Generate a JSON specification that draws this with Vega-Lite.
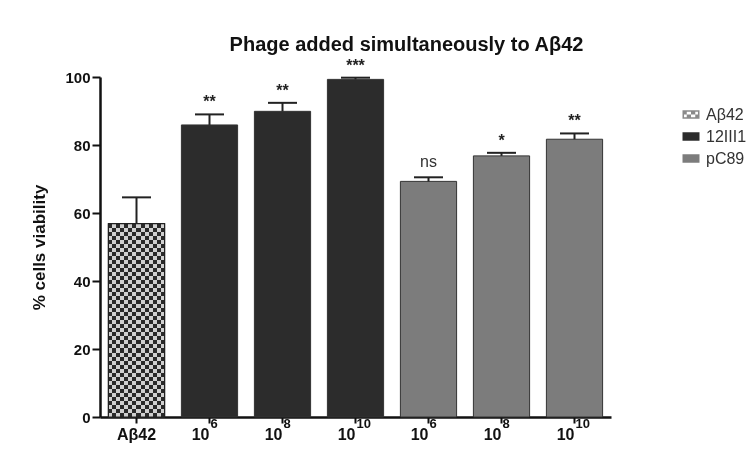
{
  "$schema": "https://vega.github.io/schema/vega-lite/v6.json",
  "width": 511,
  "height": 340,
  "autosize": "none",
  "padding": {"left": 100, "top": 77, "right": 141, "bottom": 33},
  "background": "#ffffff",
  "config": {
    "font": "Liberation Sans",
    "view": {"stroke": null}
  },
  "title": {
    "text": "Phage added simultaneously to Aβ42",
    "anchor": "middle",
    "frame": "group",
    "dx": 51,
    "offset": 3,
    "font": "Liberation Sans",
    "fontSize": 20,
    "fontWeight": "bold",
    "color": "#111111"
  },
  "data": {
    "values": [
      {"id": "a", "group": "Aβ42", "v": 56.9, "hi": 64.6, "sig": "", "exp": ""},
      {"id": "b6", "group": "12III1", "v": 85.9, "hi": 89.0, "sig": "**", "exp": "6"},
      {"id": "b8", "group": "12III1", "v": 89.9, "hi": 92.4, "sig": "**", "exp": "8"},
      {"id": "b10", "group": "12III1", "v": 99.3, "hi": 99.8, "sig": "***", "exp": "10"},
      {"id": "c6", "group": "pC89", "v": 69.3, "hi": 70.5, "sig": "ns", "exp": "6"},
      {"id": "c8", "group": "pC89", "v": 76.8, "hi": 77.7, "sig": "*", "exp": "8"},
      {"id": "c10", "group": "pC89", "v": 81.7, "hi": 83.4, "sig": "**", "exp": "10"}
    ]
  },
  "encoding": {
    "x": {
      "field": "id",
      "type": "nominal",
      "sort": null,
      "scale": {"domain": ["a", "b6", "b8", "b10", "c6", "c8", "c10"], "paddingInner": 0.23, "paddingOuter": 0.115},
      "axis": {
        "title": null,
        "labelAngle": 0,
        "labelExpr": "datum.value == 'a' ? 'Aβ42' : '10'",
        "labelAlign": {"condition": {"test": "datum.value == 'a'", "value": "center"}, "value": "right"},
        "labelFont": "Liberation Sans",
        "labelFontSize": 16,
        "labelFontWeight": "bold",
        "labelColor": "#111111",
        "labelPadding": 3,
        "tickSize": 6,
        "tickWidth": 2,
        "tickColor": "#111111",
        "domainColor": "#111111",
        "domainWidth": 2.5
      }
    },
    "y": {
      "type": "quantitative",
      "scale": {"domain": [0, 100], "nice": false},
      "axis": {
        "title": "% cells viability",
        "values": [0, 20, 40, 60, 80, 100],
        "grid": false,
        "titleFont": "Liberation Sans",
        "titleFontSize": 17,
        "titleFontWeight": "bold",
        "titleColor": "#111111",
        "titlePadding": 16,
        "labelFont": "Liberation Sans",
        "labelFontSize": 15,
        "labelFontWeight": "bold",
        "labelColor": "#111111",
        "labelPadding": 2,
        "tickSize": 8,
        "tickWidth": 2,
        "tickColor": "#111111",
        "domainColor": "#111111",
        "domainWidth": 2.5
      }
    }
  },
  "layer": [
    {
      "mark": {"type": "bar", "stroke": "#333333", "strokeWidth": 1},
      "encoding": {
        "y": {"field": "v", "type": "quantitative"},
        "color": {
          "field": "group",
          "type": "nominal",
          "scale": {"domain": ["Aβ42", "12III1", "pC89"], "range": ["#8a8a8a", "#2c2c2c", "#7c7c7c"]},
          "legend": {
            "title": null,
            "orient": "none",
            "legendX": 583,
            "legendY": 29.5,
            "padding": 0,
            "labelFont": "Liberation Sans",
            "labelFontSize": 16,
            "labelColor": "#333333",
            "labelOffset": 7,
            "rowPadding": 6,
            "symbolType": "M-1,-0.5H1V0.5H-1Z",
            "symbolSize": 289,
            "symbolStrokeColor": "#222222",
            "symbolStrokeWidth": 1,
            "symbolOpacity": 1,
            "encode": {
              "symbols": {
                "update": {
                  "shape": {"signal": "datum.value == 'Aβ42' ? 'M-1,-0.5H1V0.5H-1ZM-0.82,-0.32V0.32H0.82V-0.32ZM-1,-0.5H-0.5V0H-1ZM0,-0.5H0.5V0H0ZM-0.5,0H0V0.5H-0.5ZM0.5,0H1V0.5H0.5Z' : 'M-1,-0.5H1V0.5H-1Z'"},
                  "fill": {"signal": "datum.value == 'Aβ42' ? '#1a1a1a' : scale('color', datum.value)"},
                  "strokeWidth": {"signal": "datum.value == 'Aβ42' ? 0 : 1"}
                }
              }
            }
          }
        }
      }
    },
    {
      "transform": [{"filter": "datum.id == 'a'"}],
      "mark": {
        "type": "bar",
        "fill": {
          "gradient": "linear", "x1": 0, "y1": 0, "x2": 1, "y2": 0,
          "stops": [
            {"offset": 0, "color": "#ffffff"}, {"offset": 0.0714, "color": "#ffffff"},
            {"offset": 0.0714, "color": "#000000"}, {"offset": 0.1429, "color": "#000000"},
            {"offset": 0.1429, "color": "#ffffff"}, {"offset": 0.2143, "color": "#ffffff"},
            {"offset": 0.2143, "color": "#000000"}, {"offset": 0.2857, "color": "#000000"},
            {"offset": 0.2857, "color": "#ffffff"}, {"offset": 0.3571, "color": "#ffffff"},
            {"offset": 0.3571, "color": "#000000"}, {"offset": 0.4286, "color": "#000000"},
            {"offset": 0.4286, "color": "#ffffff"}, {"offset": 0.5, "color": "#ffffff"},
            {"offset": 0.5, "color": "#000000"}, {"offset": 0.5714, "color": "#000000"},
            {"offset": 0.5714, "color": "#ffffff"}, {"offset": 0.6429, "color": "#ffffff"},
            {"offset": 0.6429, "color": "#000000"}, {"offset": 0.7143, "color": "#000000"},
            {"offset": 0.7143, "color": "#ffffff"}, {"offset": 0.7857, "color": "#ffffff"},
            {"offset": 0.7857, "color": "#000000"}, {"offset": 0.8571, "color": "#000000"},
            {"offset": 0.8571, "color": "#ffffff"}, {"offset": 0.9286, "color": "#ffffff"},
            {"offset": 0.9286, "color": "#000000"}, {"offset": 1, "color": "#000000"}
          ]
        }
      },
      "encoding": {"y": {"field": "v", "type": "quantitative"}}
    },
    {
      "transform": [{"filter": "datum.id == 'a'"}],
      "mark": {
        "type": "bar",
        "blend": "difference",
        "fill": {
          "gradient": "linear", "x1": 0, "y1": 0, "x2": 0, "y2": 1,
          "stops": [
            {"offset": 0, "color": "#ffffff"}, {"offset": 0.0208, "color": "#ffffff"},
            {"offset": 0.0208, "color": "#000000"}, {"offset": 0.0417, "color": "#000000"},
            {"offset": 0.0417, "color": "#ffffff"}, {"offset": 0.0625, "color": "#ffffff"},
            {"offset": 0.0625, "color": "#000000"}, {"offset": 0.0833, "color": "#000000"},
            {"offset": 0.0833, "color": "#ffffff"}, {"offset": 0.1042, "color": "#ffffff"},
            {"offset": 0.1042, "color": "#000000"}, {"offset": 0.125, "color": "#000000"},
            {"offset": 0.125, "color": "#ffffff"}, {"offset": 0.1458, "color": "#ffffff"},
            {"offset": 0.1458, "color": "#000000"}, {"offset": 0.1667, "color": "#000000"},
            {"offset": 0.1667, "color": "#ffffff"}, {"offset": 0.1875, "color": "#ffffff"},
            {"offset": 0.1875, "color": "#000000"}, {"offset": 0.2083, "color": "#000000"},
            {"offset": 0.2083, "color": "#ffffff"}, {"offset": 0.2292, "color": "#ffffff"},
            {"offset": 0.2292, "color": "#000000"}, {"offset": 0.25, "color": "#000000"},
            {"offset": 0.25, "color": "#ffffff"}, {"offset": 0.2708, "color": "#ffffff"},
            {"offset": 0.2708, "color": "#000000"}, {"offset": 0.2917, "color": "#000000"},
            {"offset": 0.2917, "color": "#ffffff"}, {"offset": 0.3125, "color": "#ffffff"},
            {"offset": 0.3125, "color": "#000000"}, {"offset": 0.3333, "color": "#000000"},
            {"offset": 0.3333, "color": "#ffffff"}, {"offset": 0.3542, "color": "#ffffff"},
            {"offset": 0.3542, "color": "#000000"}, {"offset": 0.375, "color": "#000000"},
            {"offset": 0.375, "color": "#ffffff"}, {"offset": 0.3958, "color": "#ffffff"},
            {"offset": 0.3958, "color": "#000000"}, {"offset": 0.4167, "color": "#000000"},
            {"offset": 0.4167, "color": "#ffffff"}, {"offset": 0.4375, "color": "#ffffff"},
            {"offset": 0.4375, "color": "#000000"}, {"offset": 0.4583, "color": "#000000"},
            {"offset": 0.4583, "color": "#ffffff"}, {"offset": 0.4792, "color": "#ffffff"},
            {"offset": 0.4792, "color": "#000000"}, {"offset": 0.5, "color": "#000000"},
            {"offset": 0.5, "color": "#ffffff"}, {"offset": 0.5208, "color": "#ffffff"},
            {"offset": 0.5208, "color": "#000000"}, {"offset": 0.5417, "color": "#000000"},
            {"offset": 0.5417, "color": "#ffffff"}, {"offset": 0.5625, "color": "#ffffff"},
            {"offset": 0.5625, "color": "#000000"}, {"offset": 0.5833, "color": "#000000"},
            {"offset": 0.5833, "color": "#ffffff"}, {"offset": 0.6042, "color": "#ffffff"},
            {"offset": 0.6042, "color": "#000000"}, {"offset": 0.625, "color": "#000000"},
            {"offset": 0.625, "color": "#ffffff"}, {"offset": 0.6458, "color": "#ffffff"},
            {"offset": 0.6458, "color": "#000000"}, {"offset": 0.6667, "color": "#000000"},
            {"offset": 0.6667, "color": "#ffffff"}, {"offset": 0.6875, "color": "#ffffff"},
            {"offset": 0.6875, "color": "#000000"}, {"offset": 0.7083, "color": "#000000"},
            {"offset": 0.7083, "color": "#ffffff"}, {"offset": 0.7292, "color": "#ffffff"},
            {"offset": 0.7292, "color": "#000000"}, {"offset": 0.75, "color": "#000000"},
            {"offset": 0.75, "color": "#ffffff"}, {"offset": 0.7708, "color": "#ffffff"},
            {"offset": 0.7708, "color": "#000000"}, {"offset": 0.7917, "color": "#000000"},
            {"offset": 0.7917, "color": "#ffffff"}, {"offset": 0.8125, "color": "#ffffff"},
            {"offset": 0.8125, "color": "#000000"}, {"offset": 0.8333, "color": "#000000"},
            {"offset": 0.8333, "color": "#ffffff"}, {"offset": 0.8542, "color": "#ffffff"},
            {"offset": 0.8542, "color": "#000000"}, {"offset": 0.875, "color": "#000000"},
            {"offset": 0.875, "color": "#ffffff"}, {"offset": 0.8958, "color": "#ffffff"},
            {"offset": 0.8958, "color": "#000000"}, {"offset": 0.9167, "color": "#000000"},
            {"offset": 0.9167, "color": "#ffffff"}, {"offset": 0.9375, "color": "#ffffff"},
            {"offset": 0.9375, "color": "#000000"}, {"offset": 0.9583, "color": "#000000"},
            {"offset": 0.9583, "color": "#ffffff"}, {"offset": 0.9792, "color": "#ffffff"},
            {"offset": 0.9792, "color": "#000000"}, {"offset": 1, "color": "#000000"}
          ]
        }
      },
      "encoding": {"y": {"field": "v", "type": "quantitative"}}
    },
    {
      "transform": [{"filter": "datum.id == 'a'"}],
      "mark": {"type": "bar", "fill": "#787878", "fillOpacity": 0.35, "stroke": "#222222", "strokeWidth": 1.2, "strokeOpacity": 1},
      "encoding": {"y": {"field": "v", "type": "quantitative"}}
    },
    {
      "mark": {"type": "rule", "color": "#222222", "strokeWidth": 2},
      "encoding": {
        "y": {"field": "v", "type": "quantitative"},
        "y2": {"field": "hi"}
      }
    },
    {
      "mark": {"type": "tick", "color": "#222222", "size": 29, "thickness": 2, "opacity": 1},
      "encoding": {"y": {"field": "hi", "type": "quantitative"}}
    },
    {
      "transform": [{"filter": "datum.sig != '' && datum.sig != 'ns'"}],
      "mark": {"type": "text", "fontSize": 16, "fontWeight": "bold", "color": "#222222", "baseline": "alphabetic", "dy": -7},
      "encoding": {
        "y": {"field": "hi", "type": "quantitative"},
        "text": {"field": "sig"}
      }
    },
    {
      "transform": [{"filter": "datum.sig == 'ns'"}],
      "mark": {"type": "text", "fontSize": 16, "color": "#333333", "baseline": "alphabetic", "dy": -10},
      "encoding": {
        "y": {"field": "hi", "type": "quantitative"},
        "text": {"field": "sig"}
      }
    },
    {
      "transform": [{"filter": "datum.exp != ''"}],
      "mark": {"type": "text", "fontSize": 13, "fontWeight": "bold", "color": "#111111", "align": "left", "baseline": "top", "dx": 1, "dy": 1},
      "encoding": {
        "y": {"datum": 0},
        "text": {"field": "exp"}
      }
    }
  ]
}
